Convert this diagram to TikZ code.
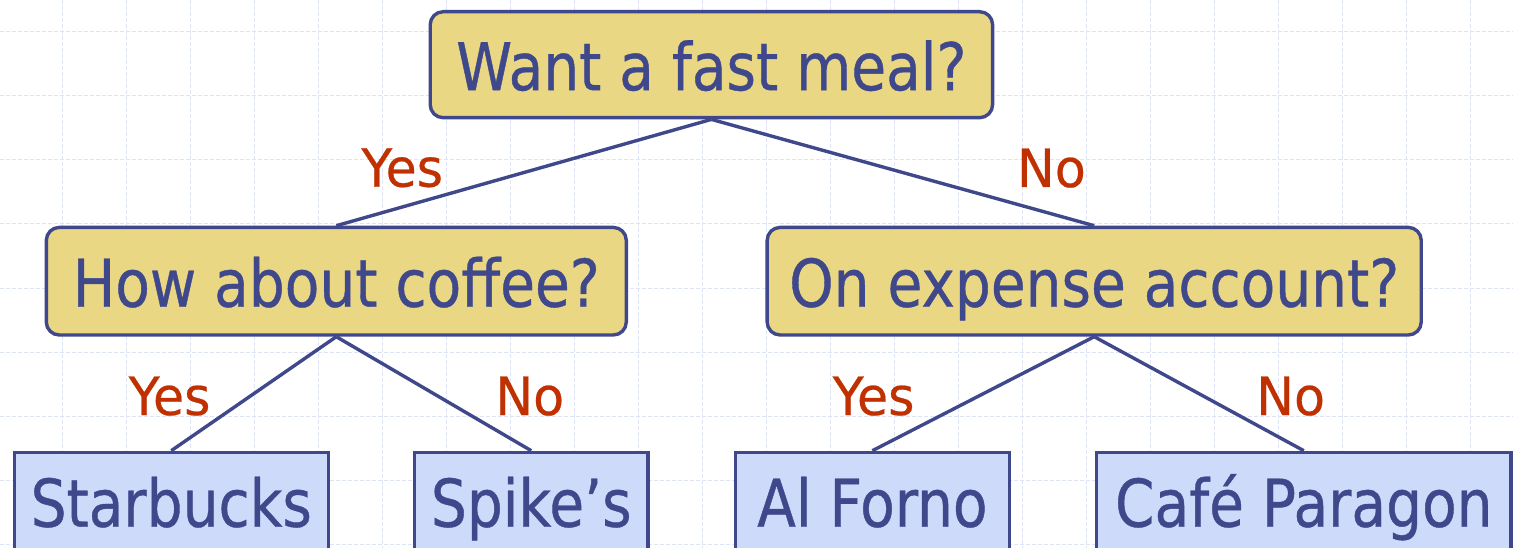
\documentclass[tikz,border=0pt]{standalone}
\usepackage{fontspec}
\setmainfont{DejaVu Sans}[FakeStretch=0.86,FakeBold=0.6]
\newfontfamily\mylabfamily{DejaVu Sans}[FakeStretch=0.96,FakeBold=0.4]
\definecolor{nodeblue}{HTML}{40488C}
\definecolor{qfill}{HTML}{EAD784}
\definecolor{leaffill}{HTML}{CDDAFA}
\definecolor{labred}{HTML}{C03000}
\definecolor{gridc}{HTML}{DDE4F8}
\newcommand\mybigfont{\fontsize{65.8pt}{70pt}\selectfont}
\newcommand\mylabfont{\mylabfamily\fontsize{52.7pt}{56pt}\selectfont}
\tikzset{
  gridline/.style={draw=gridc, line width=1pt, dash pattern=on 4pt off 2pt},
  qbox/.style={draw=nodeblue, line width=3.4pt, fill=qfill, rounded corners=13pt,
    text=nodeblue, font=\mybigfont, inner sep=0pt, text height=51pt, text depth=0pt},
  leafbox/.style={draw=nodeblue, line width=3.4pt, fill=leaffill, anchor=north,
    text=nodeblue, font=\mybigfont, inner xsep=0pt, inner ysep=23.3pt,
    text height=51pt, text depth=40pt},
  edge/.style={draw=nodeblue, line width=3.4pt},
  lab/.style={text=labred, font=\mylabfont, inner sep=0pt, anchor=base}
}
\begin{document}
\begin{tikzpicture}[x=1pt,y=-1pt]
\useasboundingbox (0,0) rectangle (1513,548);
\fill[white] (0,0) rectangle (1513,548);
\foreach \x in {62,126,...,1510} \draw[gridline] (\x,0) -- (\x,548);
\foreach \y in {32,96,...,544} \draw[gridline] (0,\y) -- (1513,\y);

% question nodes
\node[qbox, minimum width=562.4pt, minimum height=106pt] (root) at (711.4,64.7) {Want a fast meal?};
\node[qbox, minimum width=580pt, minimum height=107.6pt] (coffee) at (336.3,281.2) {How about coffee?};
\node[qbox, minimum width=654.1pt, minimum height=107.6pt] (expense) at (1094.2,281.2) {On expense account?};

% leaves
\node[leafbox, minimum width=314.1pt] (starbucks) at (171.25,450.7) {Starbucks};
\node[leafbox, minimum width=233.1pt] (spikes) at (531.25,450.7) {Spike’s};
\node[leafbox, minimum width=273.9pt] (alforno) at (872.35,450.7) {Al Forno};
\node[leafbox, minimum width=414.2pt] (paragon) at (1303.8,450.7) {Café Paragon};

% connectors
\draw[edge] (root.south) -- (coffee.north);
\draw[edge] (root.south) -- (expense.north);
\draw[edge] (coffee.south) -- (starbucks.north);
\draw[edge] (coffee.south) -- (spikes.north);
\draw[edge] (expense.south) -- (alforno.north);
\draw[edge] (expense.south) -- (paragon.north);

% labels
\node[lab] (yesA) at (402.2,186.7) {Yes};
\node[lab] (noA) at (1051.4,187) {No};
\node[lab] (yesB) at (169.6,415) {Yes};
\node[lab] (noB) at (529.7,415) {No};
\node[lab] (yesC) at (873.6,415) {Yes};
\node[lab] (noC) at (1290.6,415) {No};
\end{tikzpicture}
\end{document}
